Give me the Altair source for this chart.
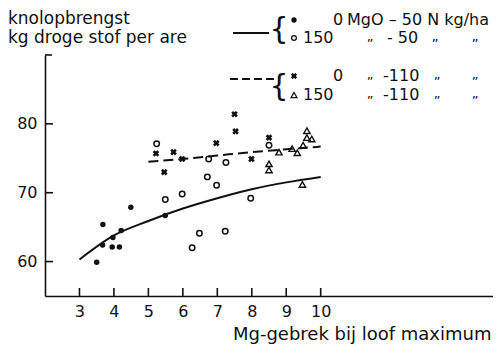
import altair as alt
import pandas as pd

# ---- data ----
filled_x = [3.5, 3.67, 3.68, 3.97, 3.95, 4.16, 4.21, 4.49, 5.49]
filled_y = [59.9, 62.4, 65.4, 63.5, 62.1, 62.1, 64.5, 67.9, 66.7]

open_x = [5.24, 5.49, 5.98, 6.75, 6.71, 6.98, 7.25, 6.27, 6.48, 7.23, 7.97, 8.5]
open_y = [77.1, 69.0, 69.8, 74.9, 72.3, 71.1, 74.4, 62.0, 64.1, 64.4, 69.2, 76.9]

cross_x = [5.22, 5.73, 5.98, 5.46, 6.97, 7.5, 7.53, 7.99, 8.5]
cross_y = [75.7, 75.9, 74.9, 73.0, 77.2, 81.4, 78.9, 74.9, 78.0]

tri_x = [8.5, 8.5, 8.79, 9.17, 9.32, 9.49, 9.6, 9.6, 9.74, 9.47]
tri_y = [74.2, 73.3, 75.9, 76.4, 75.8, 76.9, 79.0, 78.0, 77.8, 71.2]

solid_x = [3, 4, 5, 6, 7, 8, 9, 10]
solid_y = [60.3, 63.8, 65.9, 67.7, 69.2, 70.5, 71.5, 72.3]

dashed_x = [5.0, 6, 7, 8, 9, 10]
dashed_y = [74.5, 74.9, 75.4, 75.9, 76.3, 76.7]

x_ticks = [3, 4, 5, 6, 7, 8, 9, 10]
y_ticks = [60, 70, 80]

y_title = ["knolopbrengst", "kg droge stof per are"]
x_title = "Mg-gebrek bij loof maximum"

FONT = "DejaVu Sans"
INK = "#111111"
W, H = 448, 241

xs = alt.Scale(domain=[2, 15], nice=False, zero=False)
ys = alt.Scale(domain=[55, 90], nice=False, zero=False)

xaxis = alt.Axis(values=x_ticks, ticks=False, grid=False, domainColor=INK, domainWidth=1.6,
                 labelFont=FONT, labelFontSize=16, labelColor=INK, labelPadding=7, labelFlush=False,
                 title=x_title, titleFont=FONT, titleFontSize=18, titleFontWeight="normal",
                 titleColor=INK, titleAlign="right", titleBaseline="middle", titleX=446, titleY=38)
yaxis = alt.Axis(values=y_ticks, ticks=False, grid=False, domainColor=INK, domainWidth=1.6,
                 labelFont=FONT, labelFontSize=16, labelColor=INK, labelPadding=8, title=None)


def X(f):
    return alt.X(f, type="quantitative", scale=xs, axis=xaxis)


def Y(f):
    return alt.Y(f, type="quantitative", scale=ys, axis=yaxis)


df_f = pd.DataFrame({"x": filled_x, "y": filled_y})
df_o = pd.DataFrame({"x": open_x, "y": open_y})
df_c = pd.DataFrame({"x": cross_x, "y": cross_y})
df_t = pd.DataFrame({"x": tri_x, "y": tri_y})
df_s = pd.DataFrame({"x": solid_x, "y": solid_y})
df_d = pd.DataFrame({"x": dashed_x, "y": dashed_y})
df_xt = pd.DataFrame({"t": x_ticks})
df_yt = pd.DataFrame({"t": y_ticks})
one = pd.DataFrame({"k": [0]})

layers = []
layers.append(alt.Chart(df_s).mark_line(color=INK, strokeWidth=2, interpolate="monotone")
              .encode(x=X("x"), y=Y("y")))
layers.append(alt.Chart(df_d).mark_line(color=INK, strokeWidth=2, strokeDash=[10, 5], interpolate="monotone")
              .encode(x=X("x"), y=Y("y")))
layers.append(alt.Chart(df_f).mark_point(shape="circle", filled=True, size=30, color=INK, opacity=1)
              .encode(x=X("x"), y=Y("y")))
layers.append(alt.Chart(df_o).mark_point(shape="circle", filled=False, size=30, color=INK, strokeWidth=1.5, opacity=1)
              .encode(x=X("x"), y=Y("y")))
layers.append(alt.Chart(df_c).mark_point(shape="cross", filled=True, size=45, angle=45, color=INK, opacity=1)
              .encode(x=X("x"), y=Y("y")))
layers.append(alt.Chart(df_t).mark_point(shape="triangle-up", filled=False, size=40, color=INK, strokeWidth=1.4, opacity=1)
              .encode(x=X("x"), y=Y("y")))
# inward ticks
layers.append(alt.Chart(df_xt).mark_rule(color=INK, strokeWidth=1.6)
              .encode(x=X("t"), y=alt.value(H), y2=alt.value(H - 8)))
layers.append(alt.Chart(df_yt).mark_rule(color=INK, strokeWidth=1.6)
              .encode(y=Y("t"), x=alt.value(0), x2=alt.value(8)))
layers.append(alt.Chart(one).mark_rule(color=INK, strokeWidth=1.6)
              .encode(x=alt.value(0), x2=alt.value(7), y=alt.value(0)))


def txt(s, x, y, size=15, align="left"):
    return alt.Chart(one).mark_text(text=s, font=FONT, fontSize=size, color=INK, align=align,
                                    baseline="middle").encode(x=alt.value(x), y=alt.value(y))


# y title (top left)
layers.append(txt(y_title[0], -37, -36, 17))
layers.append(txt(y_title[1], -37, -17, 17))

# legend
L1, L2, L3, L4 = -35, -17, 21, 40
layers.append(alt.Chart(one).mark_rule(color=INK, strokeWidth=2)
              .encode(x=alt.value(188), x2=alt.value(224), y=alt.value(-22)))
layers.append(alt.Chart(one).mark_rule(color=INK, strokeWidth=2, strokeDash=[8, 4])
              .encode(x=alt.value(185), x2=alt.value(229), y=alt.value(24)))
layers.append(txt("{", 234, (L1 + L2) / 2 + 1, 30, "center"))
layers.append(txt("{", 234, (L3 + L4) / 2 + 1, 30, "center"))

mk = [("circle", True, L1, 28), ("circle", False, L2, 22), ("cross", True, L3, 40), ("triangle-up", False, L4, 34)]
for shape, filled, yy, sz in mk:
    kw = dict(angle=45) if shape == "cross" else {}
    layers.append(alt.Chart(one).mark_point(shape=shape, filled=filled, size=sz, color=INK, opacity=1,
                                            strokeWidth=1.3, **kw)
                  .encode(x=alt.value(249), y=alt.value(yy)))

DIT = "\u201e"
layers.append(txt("0", 293, L1, 16, "center"))
layers.append(txt("MgO \u2013 50 N kg/ha", 302, L1, 16))

layers.append(txt("150", 258, L2, 16))
layers.append(txt(DIT, 325, L2 - 1, 13, "center"))
layers.append(txt("- 50", 342, L2, 16))
layers.append(txt(DIT, 390, L2 - 1, 13, "center"))
layers.append(txt(DIT, 430, L2 - 1, 13, "center"))

layers.append(txt("0", 293, L3, 16, "center"))
layers.append(txt(DIT, 325, L3 - 1, 13, "center"))
layers.append(txt("-110", 338, L3, 16))
layers.append(txt(DIT, 392, L3 - 1, 13, "center"))
layers.append(txt(DIT, 430, L3 - 1, 13, "center"))

layers.append(txt("150", 258, L4, 16))
layers.append(txt(DIT, 325, L4 - 1, 13, "center"))
layers.append(txt("-110", 338, L4, 16))
layers.append(txt(DIT, 392, L4 - 1, 13, "center"))
layers.append(txt(DIT, 430, L4 - 1, 13, "center"))

chart = alt.layer(*layers).properties(
    width=W, height=H,
    autosize=alt.AutoSizeParams(type="none"),
    padding={"left": 37, "top": 47, "right": 0, "bottom": 48},
    background="white",
).configure_view(stroke=None)

chart.save("out.html", embed_options={"renderer": "svg", "actions": False})
